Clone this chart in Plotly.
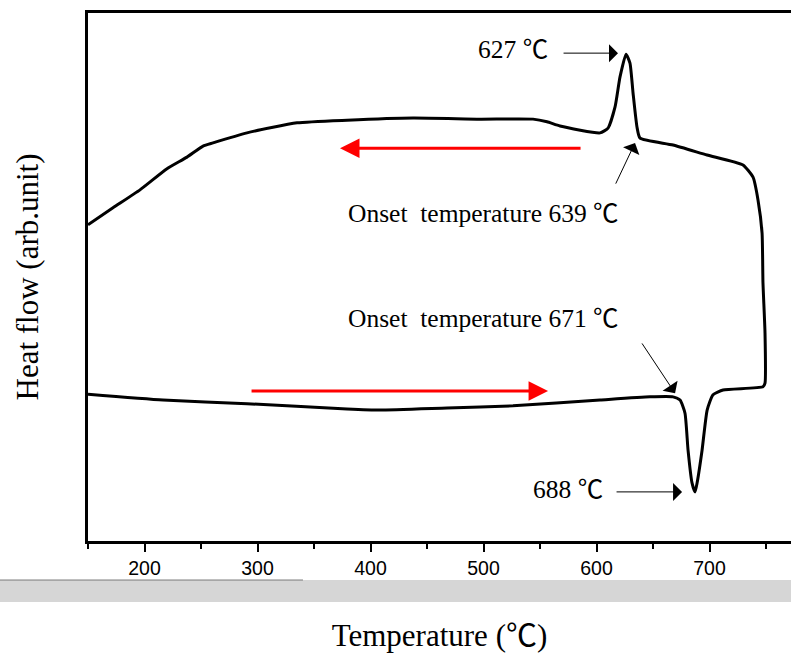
import plotly.graph_objects as go

# Heating curve (lower, left -> right), then up the right edge
heat_T = [150.0, 216.4, 290.7, 379.2, 408.4, 467.7, 526.1, 603.1, 647.3, 667.7,
          673.9, 678.3, 681.0, 684.5, 687.2, 689.0, 693.4, 697.9, 703.1, 712.0,
          747.3, 749.1, 749.1, 747.3, 746.5, 742.9, 738.5, 729.6]
heat_Q = [2.78, 2.67, 2.60, 2.50, 2.48, 2.52, 2.56, 2.67, 2.73, 2.73,
          2.67, 2.42, 1.72, 1.10, 0.93, 1.10, 1.72, 2.48, 2.77, 2.86,
          2.92, 2.99, 3.94, 4.89, 5.83, 6.46, 6.89, 7.12]

# Cooling curve (upper, right -> left)
cool_T = [697.8, 667.7, 638.5, 635.8, 632.3, 629.6, 626.1, 620.8, 616.4, 610.2,
          603.1, 567.7, 556.2, 543.8, 496.9, 437.6, 379.2, 335.0, 290.7, 260.6,
          251.8, 237.6, 219.9, 196.0, 172.1, 150.0]
cool_Q = [7.31, 7.50, 7.63, 7.84, 8.49, 9.05, 9.22, 8.79, 8.22, 7.82,
          7.73, 7.86, 7.94, 7.99, 7.99, 8.01, 7.97, 7.92, 7.73, 7.54,
          7.48, 7.27, 7.05, 6.65, 6.31, 5.99]

x_ticks = [200, 300, 400, 500, 600, 700]
x_title = "Temperature (℃)"
y_title = "Heat flow (arb.unit)"

SERIF = "Liberation Serif, Times New Roman, Noto Sans CJK SC, serif"
SANS = "Liberation Sans, Arial, sans-serif"

fig = go.Figure()
fig.add_trace(go.Scatter(
    x=heat_T + cool_T, y=heat_Q + cool_Q, mode="lines",
    line=dict(color="black", width=3, shape="spline", smoothing=0.5),
    showlegend=False, hoverinfo="skip"))

ann = []
def txt(x, y, s):
    ann.append(dict(x=x, y=y, xref="x", yref="y", text=s, showarrow=False,
                    xanchor="left", yanchor="middle",
                    font=dict(family=SERIF, size=25.5, color="black")))

txt(493.5, 9.30, "627 ℃")
txt(378.5, 6.21, "Onset\u00a0 temperature 639 ℃")
txt(378.5, 4.22, "Onset\u00a0 temperature 671 ℃")
txt(542.3, 0.97, "688 ℃")

def arrow(x0, y0, x1, y1, color, width, head, size):
    ann.append(dict(x=x1, y=y1, ax=x0, ay=y0, xref="x", yref="y", axref="x", ayref="y",
                    text="", showarrow=True, arrowhead=head, arrowsize=size,
                    arrowwidth=width, arrowcolor=color, standoff=0, startstandoff=0))

arrow(569.5, 9.24, 619.0, 9.24, "black", 1, 1, 3)
arrow(616.4, 6.74, 634.1, 7.54, "black", 1, 1, 3)
arrow(639.4, 3.77, 669.5, 2.80, "black", 1, 1, 3)
arrow(616.4, 0.93, 675.7, 0.93, "black", 1, 1, 3)
arrow(587.2, 7.44, 373.0, 7.44, "red", 3, 2, 1.3)
arrow(293.4, 2.84, 557.1, 2.84, "red", 3, 2, 1.3)

fig.update_layout(
    width=791, height=653,
    margin=dict(l=88, r=0, t=13, b=112, autoexpand=False),
    paper_bgcolor="white", plot_bgcolor="white",
    annotations=ann,
    shapes=[
        dict(type="rect", xref="paper", yref="paper", x0=-0.13, x1=1.0,
             y0=-0.1155, y1=-0.0739, fillcolor="#d6d6d6", line=dict(width=0), layer="below"),
        dict(type="line", xref="paper", yref="paper", x0=-0.13, x1=0.3058,
             y0=-0.0739, y1=-0.0739, line=dict(color="#7a7a7a", width=1)),
    ],
    xaxis=dict(range=[150, 772.1], showgrid=False, zeroline=False,
               showline=True, linecolor="black", linewidth=2.5, mirror=True,
               ticks="outside", ticklen=8, tickwidth=2, tickcolor="black",
               tickvals=x_ticks, ticktext=[str(v) for v in x_ticks],
               tickfont=dict(family=SANS, size=19.5, color="black"),
               minor=dict(ticks="outside", ticklen=5, tickwidth=2, tickcolor="black",
                          tickvals=[150, 250, 350, 450, 550, 650, 750]),
               title=dict(text=x_title, standoff=55,
                          font=dict(family=SERIF, size=31, color="black"))),
    yaxis=dict(range=[0, 10], showgrid=False, zeroline=False,
               showline=True, linecolor="black", linewidth=2.5, mirror=False,
               showticklabels=False, ticks="",
               title=dict(text=y_title, standoff=38,
                          font=dict(family=SERIF, size=31, color="black"))),
)

fig.write_html("out.html")
